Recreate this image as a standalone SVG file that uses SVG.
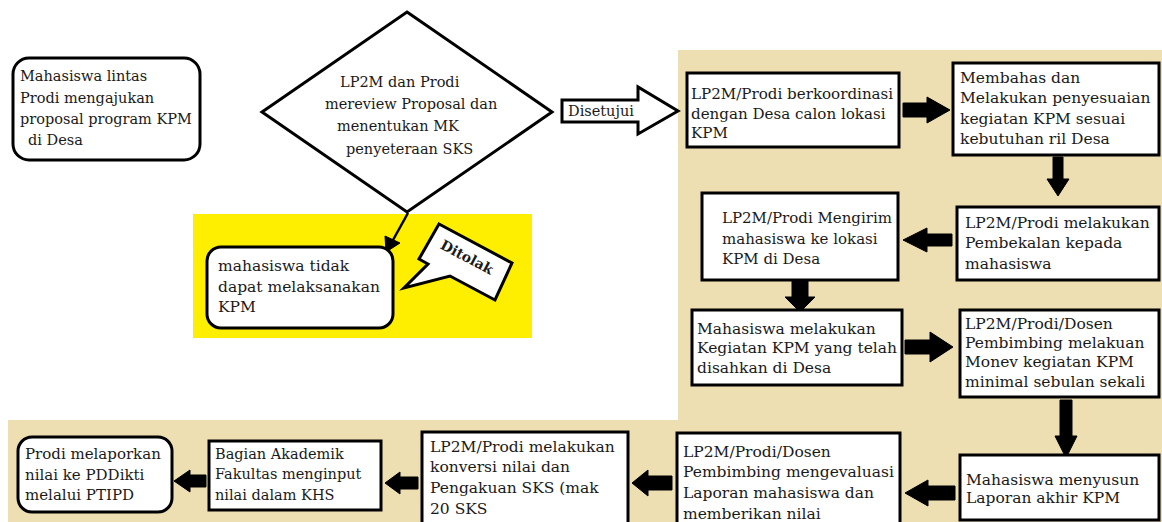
<svg xmlns="http://www.w3.org/2000/svg" width="1162" height="522" viewBox="0 0 1162 522">
<style>
.t{font-family:"DejaVu Serif","Liberation Serif",serif;font-size:15.5px;fill:#1a1a1a}
.s{font-size:14.5px}
.box{fill:#fff;stroke:#000;stroke-width:3}
.arr{fill:#000;stroke:#000;stroke-width:1;stroke-linejoin:round}
</style>
<rect x="0" y="0" width="1162" height="522" fill="#fff"/>
<path d="M678,50 H1162 V522 H8 V420 H678 Z" fill="#EEDFB2"/>
<rect x="193" y="214" width="339" height="124" fill="#FEEE00"/>

<g id="connectors">
  <polygon points="562,100 638,100 638,87 678,111 638,134 638,122 562,122" fill="#fff" stroke="#000" stroke-width="3" stroke-linejoin="miter"/>
  <text class="t s" x="568" y="116">Disetujui</text>
  <line x1="408" y1="213" x2="393" y2="240" stroke="#000" stroke-width="2.5"/>
  <polygon class="arr" points="386,252 385,236 400,243"/>
  <polygon class="arr" points="903,103 927,103 927,97 950,110 927,123 927,117 903,117"/>
  <polygon class="arr" points="1053,157 1063,157 1063,179 1069,179 1058,196 1047,179 1053,179"/>
  <polygon class="arr" points="952,234 927,234 927,228 903,240 927,252 927,246 952,246"/>
  <polygon class="arr" points="792,281 808,281 808,297 815,297 800,312 785,297 792,297"/>
  <polygon class="arr" points="905,340 930,340 930,332 953,347 930,362 930,354 905,354"/>
  <polygon class="arr" points="1060,400 1072,400 1072,436 1077,436 1066,458 1055,436 1060,436"/>
  <polygon class="arr" points="955,486 928,486 928,480 905,493 928,506 928,500 955,500"/>
  <polygon class="arr" points="672,476 648,476 648,470 632,483 648,496 648,490 672,490"/>
  <polygon class="arr" points="418,477 400,477 400,472 385,483 400,494 400,489 418,489"/>
  <polygon class="arr" points="206,475 190,475 190,470 174,481 190,492 190,487 206,487"/>
</g>

<g id="n1">
  <rect class="box" x="13" y="58" width="187" height="102" rx="16"/>
  <text class="t s"><tspan x="20" y="81">Mahasiswa lintas</tspan><tspan x="20" y="103">Prodi mengajukan</tspan><tspan x="20" y="124">proposal program KPM</tspan><tspan x="28" y="145">di Desa</tspan></text>
</g>
<g id="n2">
  <polygon points="407,12 552,112 407,212 262,112" fill="#fff" stroke="#000" stroke-width="3"/>
  <text class="t" style="font-size:14.5px"><tspan x="340" y="87">LP2M dan Prodi</tspan><tspan x="325" y="108.5">mereview Proposal dan</tspan><tspan x="337" y="131">menentukan MK</tspan><tspan x="346" y="154">penyeteraan SKS</tspan></text>
</g>
<g id="n3">
  <rect class="box" x="207" y="247" width="186" height="81" rx="14"/>
  <text class="t"><tspan x="218" y="271">mahasiswa tidak</tspan><tspan x="218" y="292">dapat melaksanakan</tspan><tspan x="218" y="312">KPM</tspan></text>
</g>
<g id="n4">
  <polygon points="439,224 512,263 495,300 450,276 404,288 428,264 419,259" fill="#fff" stroke="#000" stroke-width="3" stroke-linejoin="miter"/>
  <text class="t" x="467" y="262" text-anchor="middle" style="font-size:14px;font-weight:bold" transform="rotate(28 467 257)">Ditolak</text>
</g>
<g id="n5">
  <rect class="box" x="687" y="73" width="212" height="74"/>
  <text class="t" style="font-size:15.1px"><tspan x="691" y="99">LP2M/Prodi berkoordinasi</tspan><tspan x="691" y="119">dengan Desa calon lokasi</tspan><tspan x="691" y="138">KPM</tspan></text>
</g>
<g id="n6">
  <rect class="box" x="953" y="63" width="206" height="92"/>
  <text class="t"><tspan x="960" y="83">Membahas dan</tspan><tspan x="960" y="103">Melakukan penyesuaian</tspan><tspan x="960" y="123.5">kegiatan KPM sesuai</tspan><tspan x="960" y="144">kebutuhan ril Desa</tspan></text>
</g>
<g id="n7">
  <rect class="box" x="957" y="207" width="202" height="73"/>
  <text class="t"><tspan x="965" y="228">LP2M/Prodi melakukan</tspan><tspan x="965" y="248">Pembekalan kepada</tspan><tspan x="965" y="269">mahasiswa</tspan></text>
</g>
<g id="n8">
  <rect class="box" x="702" y="193" width="196" height="87"/>
  <text class="t" style="font-size:15px"><tspan x="722" y="223">LP2M/Prodi Mengirim</tspan><tspan x="722" y="244">mahasiswa ke lokasi</tspan><tspan x="722" y="264">KPM di Desa</tspan></text>
</g>
<g id="n9">
  <rect class="box" x="692" y="310" width="210" height="75"/>
  <text class="t"><tspan x="697" y="334">Mahasiswa melakukan</tspan><tspan x="697" y="353">Kegiatan KPM yang telah</tspan><tspan x="697" y="373">disahkan di Desa</tspan></text>
</g>
<g id="n10">
  <rect class="box" x="960" y="310" width="199" height="87"/>
  <text class="t"><tspan x="965" y="329">LP2M/Prodi/Dosen</tspan><tspan x="965" y="348">Pembimbing melakuan</tspan><tspan x="965" y="367">Monev kegiatan KPM</tspan><tspan x="965" y="387">minimal sebulan sekali</tspan></text>
</g>
<g id="n11">
  <rect class="box" x="960" y="455" width="199" height="65"/>
  <text class="t"><tspan x="966" y="485">Mahasiswa menyusun</tspan><tspan x="966" y="503">Laporan akhir KPM</tspan></text>
</g>
<g id="n12">
  <rect class="box" x="677" y="433" width="223" height="92"/>
  <text class="t"><tspan x="683" y="457">LP2M/Prodi/Dosen</tspan><tspan x="683" y="477">Pembimbing mengevaluasi</tspan><tspan x="683" y="498">Laporan mahasiswa dan</tspan><tspan x="683" y="519">memberikan nilai</tspan></text>
</g>
<g id="n13">
  <rect class="box" x="422" y="432" width="206" height="93"/>
  <text class="t"><tspan x="430" y="452">LP2M/Prodi melakukan</tspan><tspan x="430" y="472">konversi nilai dan</tspan><tspan x="430" y="493">Pengakuan SKS (mak</tspan><tspan x="430" y="514">20 SKS</tspan></text>
</g>
<g id="n14">
  <rect class="box" x="209" y="441" width="172" height="69"/>
  <text class="t s"><tspan x="215" y="459">Bagian Akademik</tspan><tspan x="215" y="479">Fakultas menginput</tspan><tspan x="215" y="500">nilai dalam KHS</tspan></text>
</g>
<g id="n15">
  <rect class="box" x="18" y="437" width="154" height="75" rx="14"/>
  <text class="t" style="font-size:15px"><tspan x="25" y="459">Prodi melaporkan</tspan><tspan x="25" y="480">nilai ke PDDikti</tspan><tspan x="25" y="500">melalui PTIPD</tspan></text>
</g>
</svg>
